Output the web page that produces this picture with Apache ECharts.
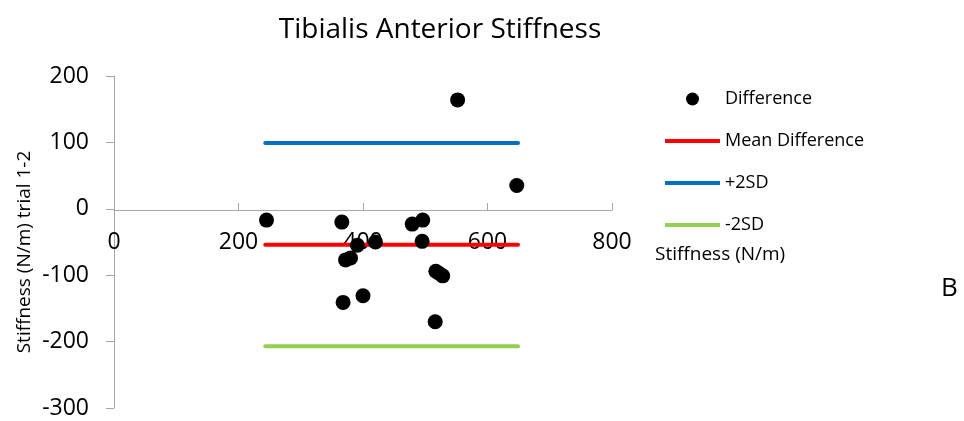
<!DOCTYPE html>
<html>
<head>
<meta charset="utf-8">
<script src="https://cdn.jsdelivr.net/npm/echarts@6/dist/echarts.min.js"></script>
<style>html,body{margin:0;padding:0;background:#fff;}#c{width:964px;height:421px;}</style>
</head>
<body>
<div id="c"></div>
<script>
const titleText = 'Tibialis Anterior Stiffness';
const panelLabel = 'B';
const seriesNames = ['Difference', 'Mean Difference', '+2SD', '-2SD'];
const stiffness = [552, 647, 245, 366, 479, 496, 495, 391, 420, 372, 380, 517, 528, 522, 368, 400, 516];
const difference = [164, 35, -17, -20, -23, -17, -49, -55, -50, -77, -74, -94, -101, -97, -141, -131, -170];
const refLineX = [243, 649];
const meanDiff = -54;
const plus2SD = 99;
const minus2SD = -207;
const xName = 'Stiffness (N/m)';
const yName = 'Stiffness (N/m) trial 1-2';

const FONT = '"Open Sans", "Noto Sans", sans-serif';
const chart = echarts.init(document.getElementById('c'), null, {renderer: 'canvas'});
const refLine = (v) => refLineX.map(x => [x, v]);
const lineIcon = 'path://M0,0H55V4H0Z';

chart.setOption({
  animation: false,
  backgroundColor: '#ffffff',
  title: [
    {text: titleText, left: 435, top: 11, textAlign: 'center',
     textStyle: {fontFamily: FONT, fontSize: 28, fontWeight: 'normal', color: '#000'}},
    {text: panelLabel, left: 936, top: 271,
     textStyle: {fontFamily: FONT, fontSize: 26, fontWeight: 'normal', color: '#000'}}
  ],
  legend: {
    orient: 'vertical', left: 660, top: 85,
    itemWidth: 55, itemHeight: 13, itemGap: 24,
    symbolKeepAspect: true,
    data: [
      {name: seriesNames[0], icon: 'circle'},
      {name: seriesNames[1], icon: lineIcon},
      {name: seriesNames[2], icon: lineIcon},
      {name: seriesNames[3], icon: lineIcon}
    ],
    textStyle: {fontFamily: FONT, fontSize: 18, color: '#000'}
  },
  grid: {left: 114, right: 352, top: 76, bottom: 13, containLabel: false, outerBoundsMode: 'none'},
  xAxis: {
    type: 'value', min: 0, max: 800, interval: 200,
    position: 'bottom', offset: -198,
    name: xName, nameLocation: 'end', nameGap: 43, nameMoveOverlap: false,
    nameTextStyle: {fontFamily: FONT, fontSize: 19, color: '#000', align: 'left', verticalAlign: 'top', padding: [35, 0, 0, 0]},
    axisLine: {onZero: false, lineStyle: {color: '#a6a6a6', width: 1}},
    axisTick: {show: true, length: 7, inside: true, lineStyle: {color: '#a6a6a6'}},
    axisLabel: {show: true, fontFamily: FONT, fontSize: 23, color: '#000', margin: 21},
    splitLine: {show: false}
  },
  yAxis: {
    type: 'value', min: -300, max: 200, interval: 100,
    name: yName, nameLocation: 'middle', nameGap: 80, nameMoveOverlap: false,
    nameTextStyle: {fontFamily: FONT, fontSize: 19, color: '#000', padding: [0, 20, 0, 0]},
    axisLine: {show: true, lineStyle: {color: '#a6a6a6', width: 1}},
    axisTick: {show: true, length: 8, inside: false, lineStyle: {color: '#a6a6a6'}},
    axisLabel: {fontFamily: FONT, fontSize: 23, color: '#000', margin: 25},
    splitLine: {show: false}
  },
  series: [
    {name: seriesNames[0], type: 'scatter', z: 4, symbol: 'circle', symbolSize: 15,
     itemStyle: {color: '#000', opacity: 1},
     data: stiffness.map((x, i) => [x, difference[i]])},
    {name: seriesNames[1], type: 'line', z: 2, symbol: 'none', showSymbol: false,
     lineStyle: {color: '#ff0000', width: 4, cap: 'round'}, itemStyle: {color: '#ff0000'},
     data: refLine(meanDiff)},
    {name: seriesNames[2], type: 'line', z: 2, symbol: 'none', showSymbol: false,
     lineStyle: {color: '#0070c0', width: 4, cap: 'round'}, itemStyle: {color: '#0070c0'},
     data: refLine(plus2SD)},
    {name: seriesNames[3], type: 'line', z: 2, symbol: 'none', showSymbol: false,
     lineStyle: {color: '#92d050', width: 4, cap: 'round'}, itemStyle: {color: '#92d050'},
     data: refLine(minus2SD)}
  ]
});
</script>
</body>
</html>
